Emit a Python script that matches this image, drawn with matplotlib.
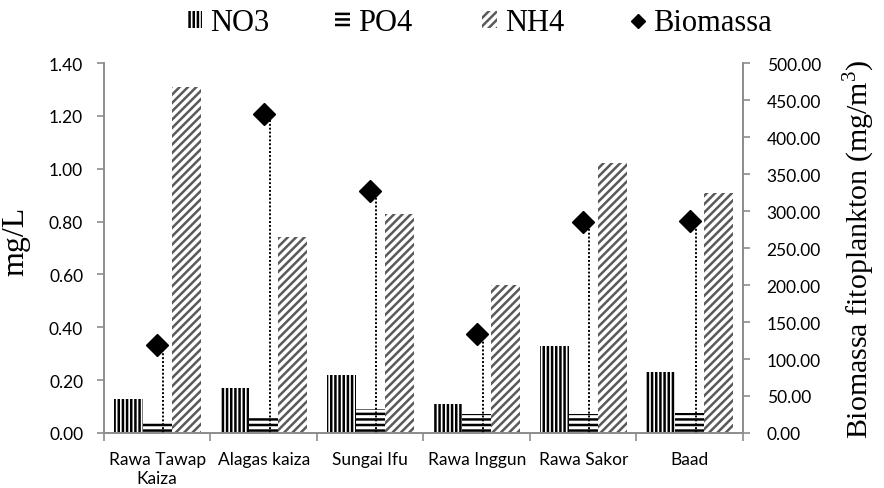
import matplotlib
matplotlib.use("Agg")
import matplotlib.pyplot as plt
import numpy as np
from matplotlib.patches import Patch
from matplotlib.lines import Line2D

# values
sites = ["Rawa Tawap\nKaiza", "Alagas kaiza", "Sungai Ifu",
         "Rawa Inggun", "Rawa Sakor", "Baad"]
no3 = [0.13, 0.17, 0.22, 0.11, 0.33, 0.23]
po4 = [0.04, 0.055, 0.09, 0.07, 0.07, 0.075]
nh4 = [1.31, 0.74, 0.83, 0.56, 1.02, 0.91]
biomassa = [119, 431, 327, 134, 285, 286]

left_ticks = np.arange(0, 1.41, 0.2)
right_ticks = np.arange(0, 501, 50)

SERIF = "Liberation Serif"
SANS = "Lato"
AXIS_GRAY = "#8c8c8c"
NH4_GRAY = "#5a5a5a"

plt.rcParams["hatch.linewidth"] = 1.8
plt.rcParams["mathtext.fontset"] = "custom"
plt.rcParams["mathtext.rm"] = SERIF

fig = plt.figure(figsize=(8.84, 4.89), dpi=100)
ax = fig.add_axes([0.1176, 0.1125, 0.7229, 0.7565])
ax2 = ax.twinx()

x = np.arange(len(sites))
w = 0.272
ax.bar(x - w, no3, w, color="white", edgecolor="black", linewidth=0,
       hatch="||||")
ax.bar(x, po4, w, color="white", edgecolor="black", linewidth=0,
       hatch="---")
ax.bar(x + w, nh4, w, color="white", edgecolor=NH4_GRAY, linewidth=0,
       hatch="////")

# biomass diamonds with dotted drop lines (drawn a touch right, as in source)
ax2.vlines(x + 0.055, 0, biomassa, colors="black", linestyles=(0, (1, 1)),
           lw=1.4, zorder=2)
ax2.plot(x, biomassa, ls="none", marker="D", ms=11, color="black", zorder=3)

ax.set_xlim(-0.5, len(sites) - 0.5)
ax.set_ylim(0, 1.40)
ax2.set_ylim(0, 500)
ax.set_yticks(left_ticks)
ax.set_yticklabels([f"{v:.2f}" for v in left_ticks], family=SANS, fontsize=12.5)
ax2.set_yticks(right_ticks)
ax2.set_yticklabels([f"{v:.2f}" for v in right_ticks], family=SANS, fontsize=12.5)

ax.set_xticks(x)
ax.set_xticklabels(sites, family=SANS, fontsize=12.5, linespacing=1.25)
ax.tick_params(axis="x", which="major", length=0, pad=13)
ax.set_xticks(np.arange(-0.5, len(sites)), minor=True)
ax.tick_params(axis="x", which="minor", length=6, color=AXIS_GRAY, width=1.2)
ax.tick_params(axis="y", length=5, color=AXIS_GRAY, width=1.2, pad=10)
ax2.tick_params(axis="y", length=5, color=AXIS_GRAY, width=1.2, pad=12)

for a in (ax, ax2):
    a.spines["top"].set_visible(False)
    for s in ("left", "right", "bottom"):
        a.spines[s].set_color(AXIS_GRAY)
        a.spines[s].set_linewidth(1.2)

ax.set_ylabel("mg/L", family=SERIF, fontsize=23)
ax.yaxis.set_label_coords(-0.115, 0.52)
ax2.set_ylabel("Biomassa fitoplankton (mg/m$^3$)", family=SERIF, fontsize=21.5,
               labelpad=14)

# legend: one entry per box so each can sit where the reference has it
handles = [
    Patch(facecolor="white", edgecolor="black", linewidth=0, hatch="||||"),
    Patch(facecolor="white", edgecolor="black", linewidth=0, hatch="---"),
    Patch(facecolor="white", edgecolor=NH4_GRAY, linewidth=0, hatch="////"),
    Line2D([], [], ls="none", marker="D", ms=7.5, color="black"),
]
labels = ["NO3", "PO4", "NH4", "Biomassa"]
legend_x = [187, 335, 482, 630]
for h, lab, lx in zip(handles, labels, legend_x):
    fig.legend([h], [lab], loc="center left", bbox_to_anchor=(lx / 884, 0.951),
               frameon=False, prop={"family": SERIF, "size": 22},
               handlelength=0.5, handleheight=0.5, handletextpad=0.25,
               borderpad=0, borderaxespad=0)

fig.savefig("out.png", dpi=100)
